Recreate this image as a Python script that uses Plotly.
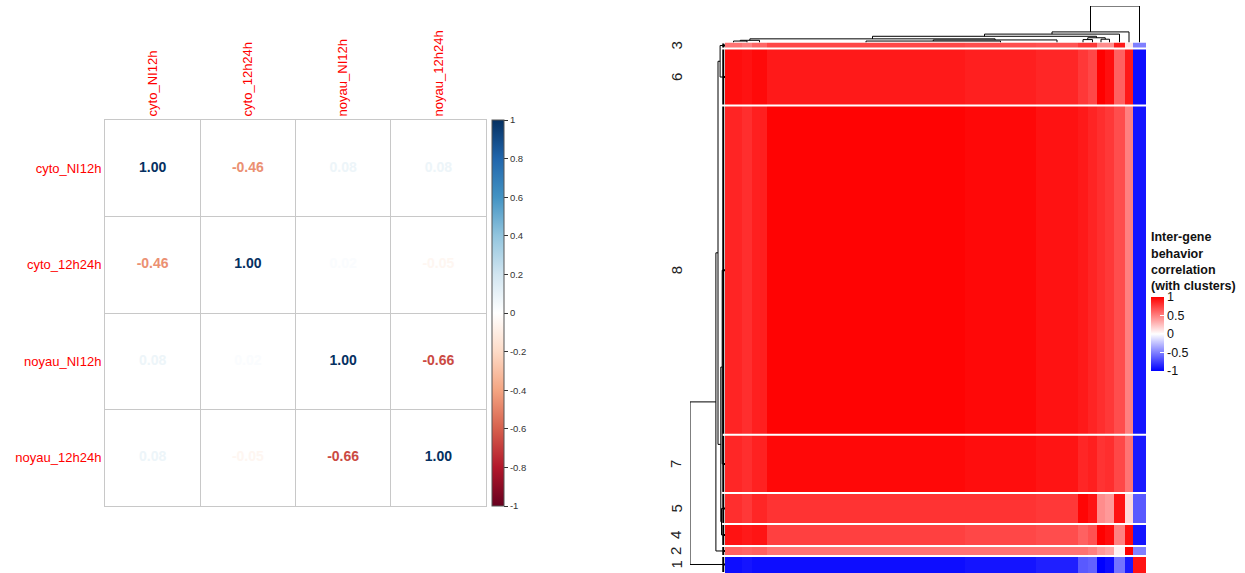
import plotly.graph_objects as go

W, H = 1245, 573

# ---------------- data: left correlation matrix ----------------
samples = ["cyto_NI12h", "cyto_12h24h", "noyau_NI12h", "noyau_12h24h"]
corr = [
    [1.00, -0.46, 0.08, 0.08],
    [-0.46, 1.00, 0.02, -0.05],
    [0.08, 0.02, 1.00, -0.66],
    [0.08, -0.05, -0.66, 1.00],
]
corr_ticks = [-1, -0.8, -0.6, -0.4, -0.2, 0, 0.2, 0.4, 0.6, 0.8, 1]

# ---------------- data: right clustered gene-gene heatmap ----------------
cluster_ids = ["3", "6", "8", "7", "5", "4", "2", "1"]
cluster_sizes = [6, 57, 329, 58, 31, 22, 10, 17]
col_segments = ["c0", "c1", "c2", "c3", "c4", "c5", "c6", "c7", "c8", "c9", "c10", "c11", "c12"]
col_segment_sizes = [17, 10, 15, 198, 71, 42, 10, 9, 8, 9, 11, 8, 13]
block_corr = [
    [0.55, 0.50, 0.60, 0.72, 0.70, 0.68, 0.78, 0.78, 0.45, 0.45, 0.90, 0.10, -0.50],
    [0.95, 0.93, 0.96, 0.90, 0.88, 0.85, 0.78, 0.72, 1.00, 0.94, 0.62, 0.90, -0.95],
    [0.86, 0.82, 0.88, 0.99, 0.97, 0.93, 0.90, 0.86, 0.82, 0.78, 0.70, 0.50, -0.92],
    [0.85, 0.82, 0.87, 0.97, 0.95, 0.92, 0.85, 0.88, 0.80, 0.82, 0.72, 0.55, -0.90],
    [0.82, 0.78, 0.85, 0.80, 0.80, 0.78, 0.98, 0.92, 0.45, 0.40, 0.93, 0.15, -0.65],
    [0.93, 0.90, 0.92, 0.75, 0.72, 0.70, 0.62, 0.68, 1.00, 0.95, 0.50, 0.95, -0.92],
    [0.62, 0.60, 0.62, 0.55, 0.55, 0.55, 0.55, 0.50, 0.40, 0.35, 0.05, 1.00, -0.50],
    [-0.95, -0.92, -0.95, -0.95, -0.92, -0.88, -0.65, -0.62, -1.00, -0.95, -0.55, -0.90, 0.92],
]
# dendrogram merges: (child a, child b, height, new node)
row_tree = [
    ("3", "6", 0.14, "a"), ("8", "7", 0.08, "b"), ("5", "4", 0.10, "c"),
    ("b", "c", 0.12, "d"), ("a", "d", 0.20, "e"), ("e", "2", 0.26, "f"),
    ("f", "1", 1.00, "root"),
]
row_leaf_height = 0.05
col_tree = [
    ("c0", "c1", 0.04, "k1"), ("k1", "c2", 0.06, "k2"), ("c3", "c4", 0.04, "k3"),
    ("k3", "c5", 0.07, "k4"), ("k2", "k4", 0.10, "k5"), ("c6", "c7", 0.08, "k6"),
    ("c8", "c9", 0.09, "k7"), ("k6", "k7", 0.13, "k8"), ("k5", "k8", 0.17, "k9"),
    ("k9", "c10", 0.23, "k10"), ("k10", "c11", 0.29, "k11"), ("k11", "c12", 1.00, "root"),
]
hm_ticks = [-1, -0.5, 0, 0.5, 1]

FONT = "Liberation Sans, Arial, sans-serif"

# ---------------- helpers ----------------
rdbu = ["#67001F", "#B2182B", "#D6604D", "#F4A582", "#FDDBC7", "#FFFFFF",
        "#D1E5F0", "#92C5DE", "#4393C3", "#2166AC", "#053061"]
rdbu_scale = [[i / (len(rdbu) - 1), c] for i, c in enumerate(rdbu)]


def hex2rgb(h):
    return tuple(int(h[i:i + 2], 16) for i in (1, 3, 5))


def color_for(v):
    t = (v + 1) / 2 * (len(rdbu) - 1)
    i = min(int(t), len(rdbu) - 2)
    f = t - i
    a, b = hex2rgb(rdbu[i]), hex2rgb(rdbu[i + 1])
    return "rgb(%d,%d,%d)" % tuple(round(a[k] + (b[k] - a[k]) * f) for k in range(3))


def px_x(p):
    return p / W


def px_y(p):
    return 1 - p / H


def cumulative(sizes):
    edges = [0]
    for s in sizes:
        edges.append(edges[-1] + s)
    return edges


def dendro_lines(leaf_pos, leaf_h, tree):
    pos = dict(leaf_pos)
    hgt = {k: leaf_h for k in leaf_pos}
    hs, ps = [], []
    for a, b, h, n in tree:
        hs += [hgt[a], h, h, hgt[b], None]
        ps += [pos[a], pos[a], pos[b], pos[b], None]
        pos[n] = (pos[a] + pos[b]) / 2
        hgt[n] = h
    return hs, ps


fig = go.Figure()

# ---------------- left: corrplot ----------------
n = len(samples)
xs, ys, txt, cols = [], [], [], []
for i in range(n):
    for j in range(n):
        xs.append(j + 0.5)
        ys.append(i + 0.5)
        txt.append("%.2f" % corr[i][j])
        cols.append(color_for(corr[i][j]))

fig.add_trace(go.Scatter(
    x=xs, y=ys, mode="markers+text", text=txt,
    textfont=dict(color=cols, size=14, family=FONT, weight="bold"),
    marker=dict(size=1, opacity=0, color=[c for row in corr for c in row],
                colorscale=rdbu_scale, cmin=-1, cmax=1, showscale=True,
                colorbar=dict(
                    x=px_x(492), xanchor="left", xpad=0, ypad=0,
                    y=px_y(313), yanchor="middle", len=386, lenmode="pixels",
                    thickness=12, outlinecolor="#555", outlinewidth=1,
                    tickvals=corr_ticks, ticktext=["%g" % t for t in corr_ticks],
                    ticks="outside", ticklen=4, tickcolor="#333",
                    tickfont=dict(size=9.5, color="#333", family=FONT))),
    hoverinfo="skip", showlegend=False, xaxis="x", yaxis="y"))

# ---------------- right: clustered heatmap ----------------
row_edges = cumulative(cluster_sizes)
col_edges = cumulative(col_segment_sizes)
fig.add_trace(go.Heatmap(
    z=block_corr, x=col_edges, y=row_edges,
    colorscale=[[0, "#0000FF"], [0.5, "#FFFFFF"], [1, "#FF0000"]],
    zmin=-1, zmax=1, xaxis="x2", yaxis="y2",
    colorbar=dict(
        title=dict(text="<b>Inter-gene<br>behavior<br>correlation<br>(with clusters)</b>",
                   side="top", font=dict(size=12.5, color="#111", family=FONT)),
        x=px_x(1151), xanchor="left", xpad=0, ypad=0,
        y=px_y(371), yanchor="bottom", len=142, lenmode="pixels", thickness=13,
        outlinewidth=0, tickvals=hm_ticks, ticktext=["%g" % t for t in hm_ticks],
        ticks="inside", ticklen=4, tickcolor="white",
        tickfont=dict(size=12.5, color="#111", family=FONT)),
    hoverinfo="skip"))

# white separators between row clusters
for e in row_edges[1:-1]:
    fig.add_shape(type="line", xref="x2 domain", yref="y2", x0=0, x1=1, y0=e, y1=e,
                  line=dict(color="white", width=2))

# row dendrogram
row_centers = {c: (row_edges[k] + row_edges[k + 1]) / 2 for k, c in enumerate(cluster_ids)}
rh, rp = dendro_lines(row_centers, row_leaf_height, row_tree)
fig.add_trace(go.Scatter(x=rh, y=rp, mode="lines", line=dict(color="black", width=1),
                         xaxis="x3", yaxis="y2", hoverinfo="skip", showlegend=False,
                         cliponaxis=False))
# dense within-cluster branches
lh, lp = [], []
for k, c in enumerate(cluster_ids):
    lh += [row_leaf_height, row_leaf_height, None, 0, row_leaf_height, None]
    lp += [row_edges[k] + 1, row_edges[k + 1] - 1, None, row_centers[c], row_centers[c], None]
fig.add_trace(go.Scatter(x=lh, y=lp, mode="lines", line=dict(color="black", width=2),
                         xaxis="x3", yaxis="y2", hoverinfo="skip", showlegend=False,
                         cliponaxis=False))

# column dendrogram
col_centers = {c: (col_edges[k] + col_edges[k + 1]) / 2 for k, c in enumerate(col_segments)}
ch, cp = dendro_lines(col_centers, 0, col_tree)
fig.add_trace(go.Scatter(x=cp, y=ch, mode="lines", line=dict(color="black", width=1),
                         xaxis="x2", yaxis="y4", hoverinfo="skip", showlegend=False,
                         cliponaxis=False))

# cluster labels
for k, c in enumerate(cluster_ids):
    fig.add_annotation(x=px_x(676), xref="paper", y=row_centers[c], yref="y2",
                       text=c, showarrow=False, textangle=-90,
                       font=dict(size=15, color="#222", family=FONT))

# ---------------- layout ----------------
fig.update_layout(
    width=W, height=H, autosize=False,
    margin=dict(l=0, r=0, t=0, b=0),
    paper_bgcolor="white", plot_bgcolor="white",
    font=dict(family=FONT),
    xaxis=dict(domain=[px_x(105), px_x(486)], range=[0, n], side="top",
               tickvals=[j + 0.5 for j in range(n)], ticktext=samples, tickangle=-90,
               tickfont=dict(color="#FF0000", size=13, family=FONT), ticks="",
               showgrid=False, zeroline=False, showline=True, mirror=True,
               linecolor="#C8C8C8", linewidth=1,
               minor=dict(tickmode="array", tickvals=list(range(1, n)), showgrid=True,
                          gridcolor="#C8C8C8", gridwidth=1, ticks=""),
               fixedrange=True),
    yaxis=dict(domain=[px_y(506), px_y(120)], range=[n, 0],
               tickvals=[i + 0.5 for i in range(n)], ticktext=samples,
               tickfont=dict(color="#FF0000", size=13, family=FONT), ticks="",
               showgrid=False, zeroline=False, showline=True, mirror=True,
               linecolor="#C8C8C8", linewidth=1,
               minor=dict(tickmode="array", tickvals=list(range(1, n)), showgrid=True,
                          gridcolor="#C8C8C8", gridwidth=1, ticks=""),
               fixedrange=True),
    xaxis2=dict(domain=[px_x(725), px_x(1146)], range=[0, col_edges[-1]], visible=False,
                anchor="y2"),
    yaxis2=dict(domain=[px_y(573), px_y(42.5)], range=[row_edges[-1], 0], visible=False,
                anchor="x2"),
    xaxis3=dict(domain=[px_x(690), px_x(725)], range=[1, 0], visible=False, anchor="y2"),
    yaxis4=dict(domain=[px_y(42.5), px_y(6)], range=[0, 1], visible=False, anchor="x2"),
)

fig.write_html("out.html", config={"displayModeBar": False},
               post_script="document.body.style.margin='0';")
